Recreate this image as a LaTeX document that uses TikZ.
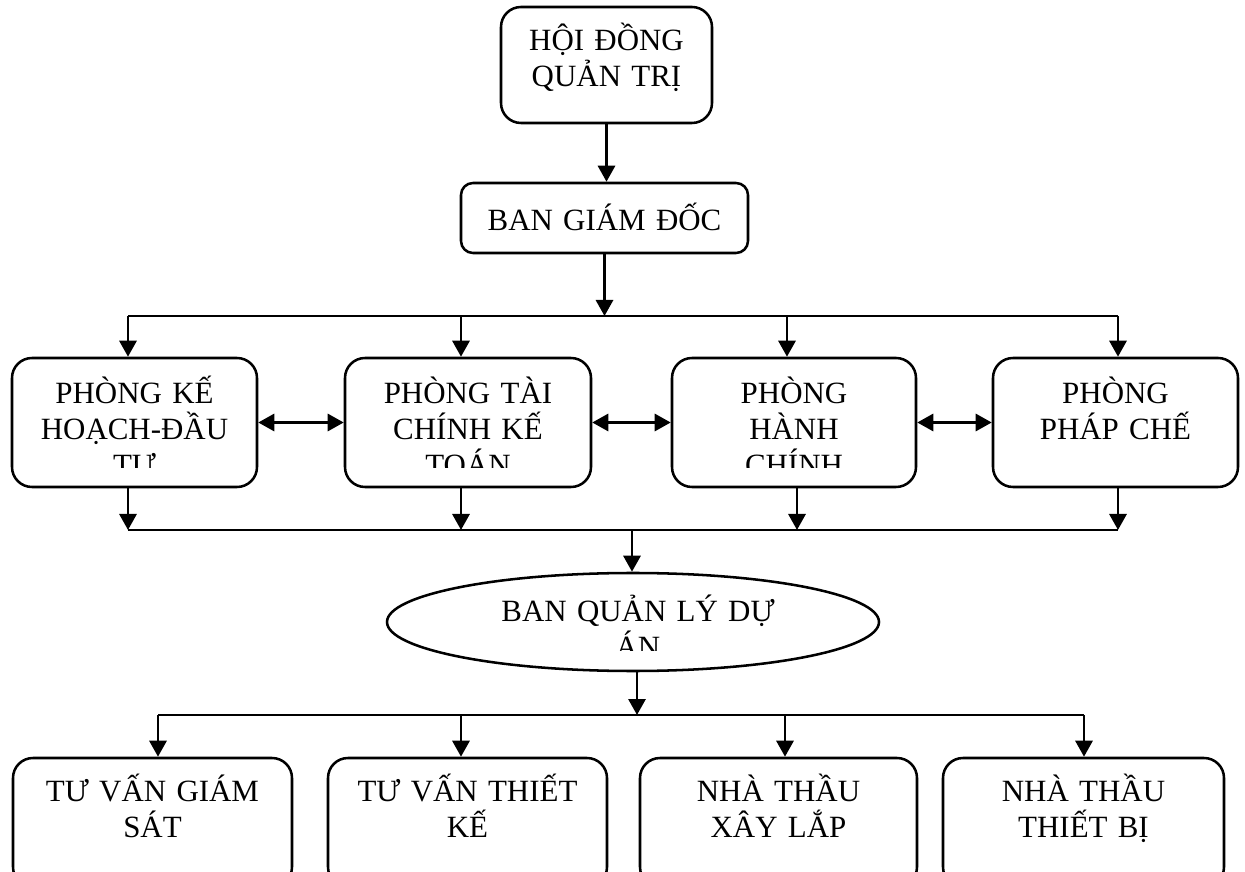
\documentclass[tikz,border=0pt]{standalone}
\usepackage{fontspec}
\setmainfont{Liberation Serif}
\usetikzlibrary{arrows.meta}
\usetikzlibrary{shapes.geometric}
\newcommand\px[0]{*0.025cm}

\tikzset{
  box/.style={draw,line width=1.8pt,rounded corners=20\px,inner sep=0pt},
  oval/.style={draw,ellipse,line width=1.8pt,inner sep=0pt},
  txt/.style={anchor=base,inner sep=0pt,text width=330\px,align=center,
    font=\fontsize{22}{25.6}\selectfont},
  link/.style={line width=1.8pt},
  arr/.style={line width=2.1pt,-{Triangle[length=16\px,width=17\px]}},
  dbl/.style={line width=2.1pt,{Triangle[length=16\px,width=17\px]}-{Triangle[length=16\px,width=17\px]}}
}

\begin{document}
\begin{tikzpicture}[x=0.025cm,y=-0.025cm]

\useasboundingbox (0,0) rectangle (1245,872);

% top
\node[box,minimum width=211\px,minimum height=116\px] (hdqt) at (606.5,65) {};
\node[txt] (hdqtt) at ([yshift=-45\px]hdqt.north) {HỘI ĐỒNG\\QUẢN TRỊ};
\node[box,rounded corners=12\px,minimum width=287\px,minimum height=70\px] (bgd) at (604.5,218) {};
\node[txt] (bgdt) at ([yshift=-49\px]bgd.north) {BAN GIÁM ĐỐC};

% phong ban
\node[box,minimum width=245\px,minimum height=129\px] (khdt) at (134.5,422.5) {};
\node[box,minimum width=246\px,minimum height=129\px] (tckt) at (468,422.5) {};
\node[box,minimum width=244\px,minimum height=129\px] (hc) at (794,422.5) {};
\node[box,minimum width=245\px,minimum height=129\px] (pc) at (1115.5,422.5) {};

\begin{scope}
\clip (0,340) rectangle (1245,468);
\node[txt] (khdtt) at ([yshift=-47\px]khdt.north) {PHÒNG KẾ\\HOẠCH-ĐẦU\\TƯ};
\node[txt] (tcktt) at ([yshift=-47\px]tckt.north) {PHÒNG TÀI\\CHÍNH KẾ\\TOÁN};
\node[txt] (hct) at ([yshift=-47\px]hc.north) {PHÒNG\\HÀNH\\CHÍNH};
\node[txt] (pct) at ([yshift=-47\px]pc.north) {PHÒNG\\PHÁP CHẾ};
\end{scope}

% ban quan ly
\node[oval,minimum width=492\px,minimum height=98\px] (bql) at (633,622) {};
\begin{scope}
\clip (0,560) rectangle (1245,650);
\node[txt] (bqlt) at ([xshift=5\px,yshift=-50\px]bql.north) {BAN QUẢN LÝ DỰ\\ÁN};
\end{scope}

% don vi
\node[box,minimum width=279\px,minimum height=129\px] (tvgs) at (152.5,822.5) {};
\node[txt] (tvgst) at ([yshift=-45\px]tvgs.north) {TƯ VẤN GIÁM\\SÁT};
\node[box,minimum width=279\px,minimum height=129\px] (tvtk) at (467.5,822.5) {};
\node[txt] (tvtkt) at ([yshift=-45\px]tvtk.north) {TƯ VẤN THIẾT\\KẾ};
\node[box,minimum width=277\px,minimum height=129\px] (ntxl) at (778.5,822.5) {};
\node[txt] (ntxlt) at ([yshift=-45\px]ntxl.north) {NHÀ THẦU\\XÂY LẮP};
\node[box,minimum width=281\px,minimum height=129\px] (nttb) at (1083.5,822.5) {};
\node[txt] (nttbt) at ([yshift=-45\px]nttb.north) {NHÀ THẦU\\THIẾT BỊ};

% bus lines
\coordinate (t1) at (128,316);
\coordinate (t2) at (461,316);
\coordinate (t3) at (787,316);
\coordinate (t4) at (1118,316);
\coordinate (u0) at (632,530);
\coordinate (u1) at (128,530);
\coordinate (u2) at (461,530);
\coordinate (u3) at (797,530);
\coordinate (u4) at (1118,530);
\coordinate (v0) at (637,715);
\coordinate (v1) at (158,715);
\coordinate (v2) at (461,715);
\coordinate (v3) at (785,715);
\coordinate (v4) at (1084,715);

\draw[arr] (hdqt.south) -- (hdqt.south |- bgd.north);
\draw[arr] (bgd.south) -- (bgd.south |- t1);

\draw[link] (t1) -- (t4);
\draw[arr] (t1) -- (t1 |- khdt.north);
\draw[arr] (t2) -- (t2 |- tckt.north);
\draw[arr] (t3) -- (t3 |- hc.north);
\draw[arr] (t4) -- (t4 |- pc.north);

\draw[dbl] (khdt.east) -- (tckt.west);
\draw[dbl] (tckt.east) -- (hc.west);
\draw[dbl] (hc.east) -- (pc.west);

\draw[link] (u1) -- (u4);
\draw[arr] (u1 |- khdt.south) -- (u1);
\draw[arr] (u2 |- tckt.south) -- (u2);
\draw[arr] (u3 |- hc.south) -- (u3);
\draw[arr] (u4 |- pc.south) -- (u4);
\draw[arr] (u0) -- (u0 |- bql.north);

\draw[arr] (v0 |- bql.south) -- (v0);
\draw[link] (v1) -- (v4);
\draw[arr] (v1) -- (v1 |- tvgs.north);
\draw[arr] (v2) -- (v2 |- tvtk.north);
\draw[arr] (v3) -- (v3 |- ntxl.north);
\draw[arr] (v4) -- (v4 |- nttb.north);

\end{tikzpicture}
\end{document}
